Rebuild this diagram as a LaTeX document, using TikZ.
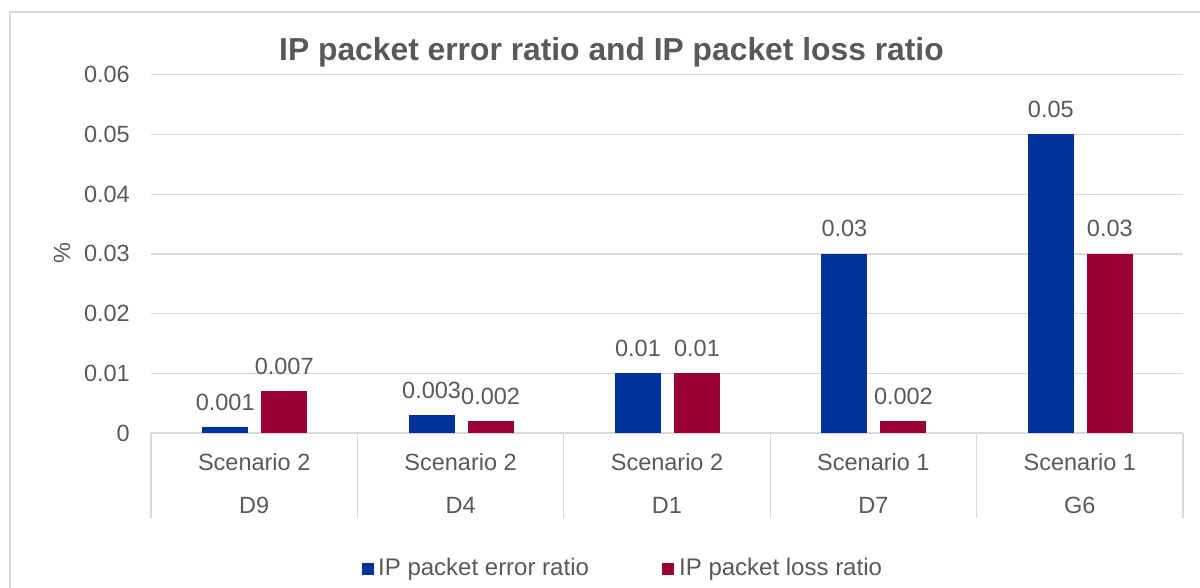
\documentclass[tikz,border=0pt]{standalone}
\usepackage{fontspec}
\setmainfont{Liberation Sans}
\definecolor{txt}{HTML}{595959}
\definecolor{grid}{HTML}{D9D9D9}
\definecolor{errblue}{HTML}{003399}
\definecolor{lossred}{HTML}{990033}
\begin{document}
\begin{tikzpicture}[x=1pt,y=-1pt,
  lbl/.style={text=txt,font=\fontsize{23.5}{27}\selectfont,inner sep=0pt},
  leglbl/.style={text=txt,font=\fontsize{24}{27}\selectfont,inner sep=0pt},
  gridline/.style={draw=grid,line width=1.3pt},
  errbar/.style={fill=errblue},
  lossbar/.style={fill=lossred}]
\useasboundingbox (0,0) rectangle (1200,588);
\fill[white] (0,0) rectangle (1200,588);
% outer frame
\draw[grid,line width=1.3pt] (10,588) -- (10,12) -- (1200,12);
% title
\node[text=txt,font=\bfseries\fontsize{31.8}{36}\selectfont,inner sep=0pt] (title) at (611.5,52) {IP packet error ratio and IP packet loss ratio};
% grid lines and y labels
\foreach \k/\t in {0/0,1/0.01,2/0.02,3/0.03,4/0.04,5/0.05,6/0.06}{
  \draw[gridline] (151,{433-59.7*\k}) -- (1183,{433-59.7*\k});
  \node[lbl,anchor=east] (ytick\k) at (130,{433-59.7*\k}) {\t};
}
\node[lbl,rotate=90] (ylabel) at (62,253) {\%};
% category separators
\foreach \k in {0,...,5}{
  \draw[gridline] ({151+206.4*\k},433) -- ({151+206.4*\k},518);
}
% bars
\foreach \i/\b/\bl/\r/\rl/\s/\d in {1/1/0.001/7/0.007/2/D9,2/3/0.003/2/0.002/2/D4,3/10/0.01/10/0.01/2/D1,4/30/0.03/2/0.002/1/D7,5/50/0.05/30/0.03/1/G6}{
  \pgfmathsetmacro{\c}{151+206.4*(\i-0.5)}
  \pgfmathsetmacro{\bt}{433-5.97*\b}
  \pgfmathsetmacro{\rt}{433-5.97*\r}
  \fill[errbar] (\c-52,433) rectangle (\c-6,\bt);
  \fill[lossbar] (\c+7,433) rectangle (\c+53,\rt);
  \node[lbl] (bl\i) at (\c-29,\bt-25) {\bl};
  \node[lbl] (rl\i) at (\c+30,\rt-25) {\rl};
  \node[lbl] (sc\i) at (\c,462) {Scenario \s};
  \node[lbl] (dv\i) at (\c,505) {\d};
}
% legend
\fill[errblue] (362,563) rectangle (374,575);
\node[leglbl,anchor=west] (leg1) at (378,569) {IP packet error ratio};
\fill[lossred] (662,563) rectangle (674,575);
\node[leglbl,anchor=west] (leg2) at (679,569) {IP packet loss ratio};
\end{tikzpicture}
\end{document}
